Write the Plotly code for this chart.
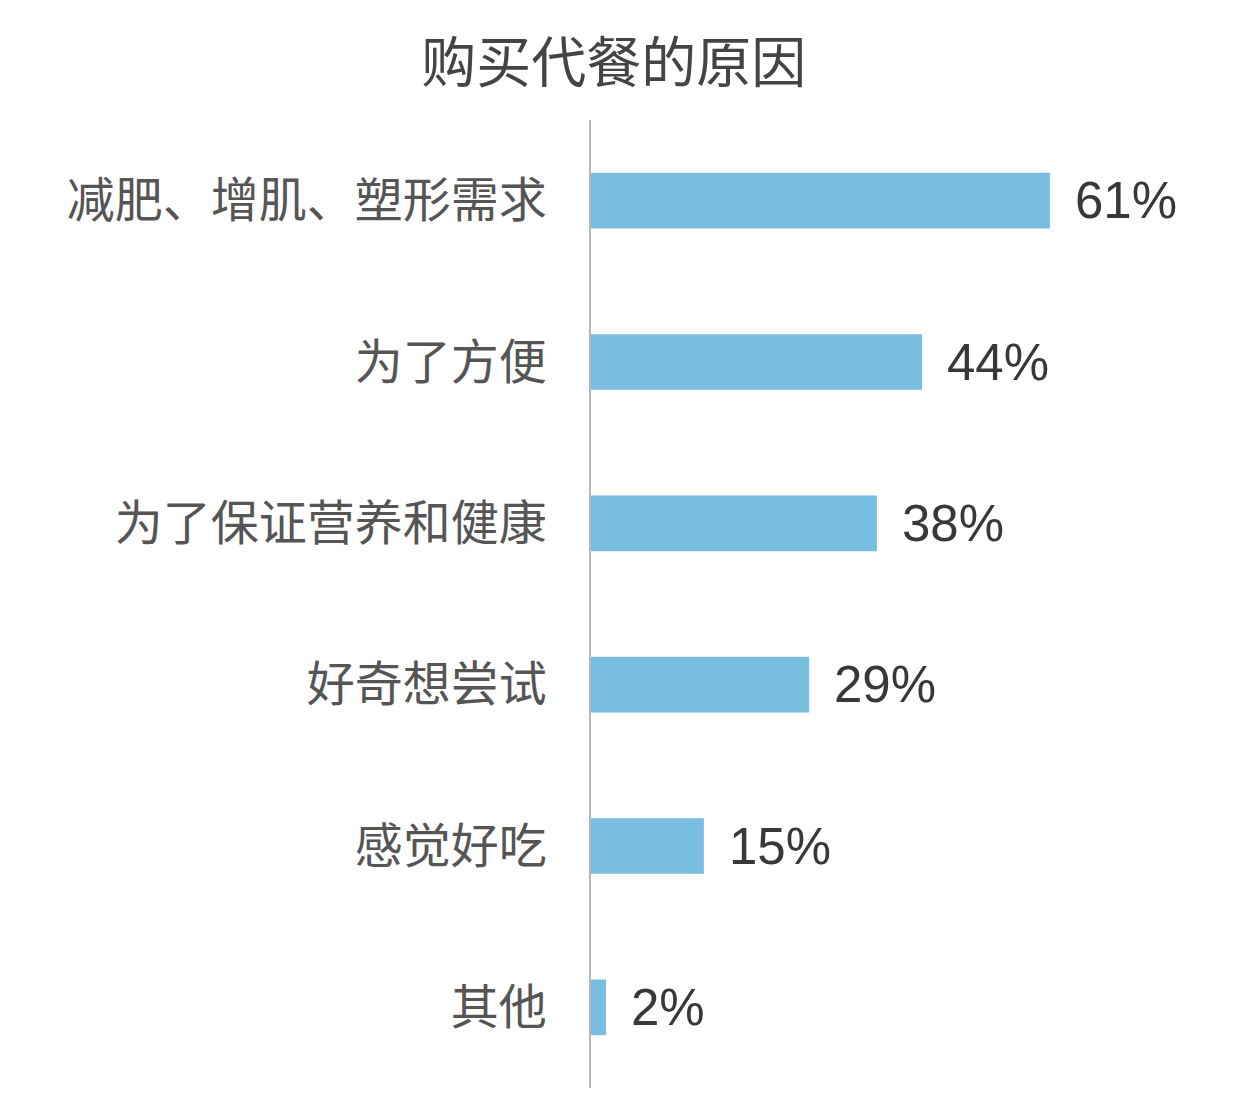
import plotly.graph_objects as go

categories = ["减肥、增肌、塑形需求", "为了方便", "为了保证营养和健康", "好奇想尝试", "感觉好吃", "其他"]
values = [61, 44, 38, 29, 15, 2]
labels = ["61%", "44%", "38%", "29%", "15%", "2%"]

FONT = "Noto Sans CJK SC, Noto Sans, sans-serif"

fig = go.Figure()
fig.add_trace(go.Bar(
    x=values, y=categories, orientation="h",
    marker=dict(color="#77BEE1", line=dict(width=0)),
    width=0.345,
    hoverinfo="skip",
))

# value labels a bit off the bar end
for c, v, t in zip(categories, values, labels):
    fig.add_annotation(x=v, y=c, text=t, showarrow=False, xanchor="left",
                       xshift=23, font=dict(size=51, color="#383838", family="Liberation Sans, Arial, sans-serif"))

fig.update_layout(
    width=1254, height=1104,
    paper_bgcolor="white", plot_bgcolor="white",
    margin=dict(l=583, r=24, t=112, b=24),
    title=dict(text="购买代餐的原因", x=0.483, xanchor="center", y=0.95, yanchor="middle",
               font=dict(size=55, color="#444444", family=FONT)),
    showlegend=False,
    font=dict(family=FONT),
)
fig.update_xaxes(range=[0, 86], visible=False, showgrid=False, zeroline=False)
fig.update_yaxes(autorange="reversed", showgrid=False, zeroline=False,
                 showline=True, linecolor="#b8b8b8", linewidth=1.5,
                 ticks="", ticklabelstandoff=33,
                 tickfont=dict(size=48, color="#555555", family=FONT))

fig.write_html("out.html")
